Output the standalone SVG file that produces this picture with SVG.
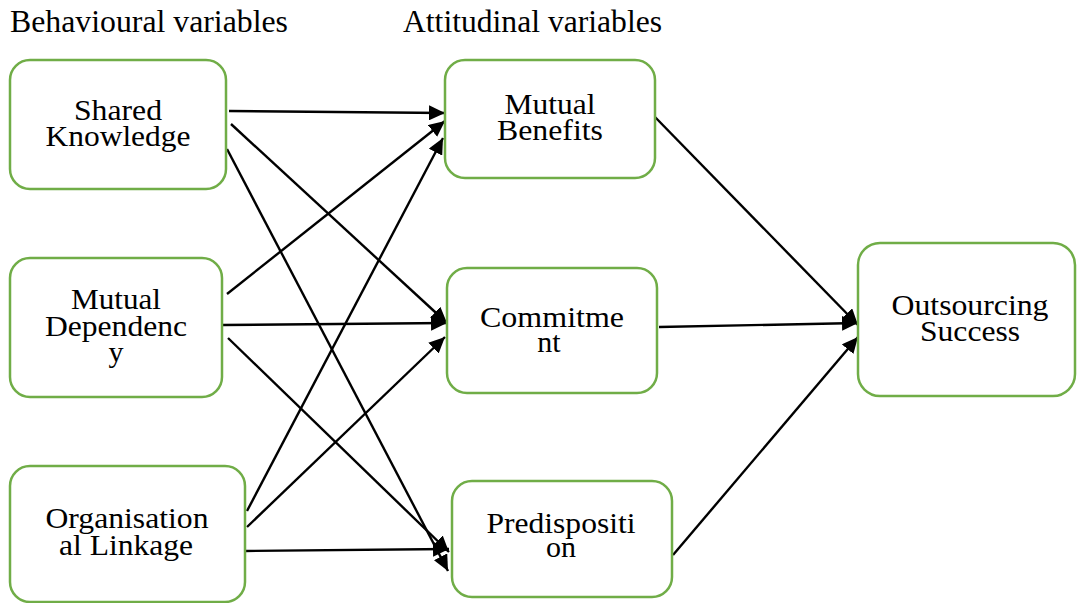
<svg xmlns="http://www.w3.org/2000/svg" width="1077" height="603" viewBox="0 0 1077 603">
  <style>
    .box { fill: #ffffff; stroke: #70AD47; stroke-width: 2.5; }
    .lbl { font-family: 'Liberation Serif', 'Times New Roman', Times, serif; font-size: 30px; fill: #000000; text-anchor: middle; }
    .hdr { font-family: 'Liberation Serif', 'Times New Roman', Times, serif; font-size: 31px; fill: #000000; }
    .link { stroke: #000000; stroke-width: 2.4; fill: none; marker-end: url(#arrow); }
  </style>
  <defs>
    <marker id="arrow" markerUnits="userSpaceOnUse" markerWidth="17" markerHeight="15" refX="16" refY="7.5" orient="auto">
      <path d="M0,0 L16,7.5 L0,15 z" fill="#000000"/>
    </marker>
  </defs>
  <rect width="1077" height="603" fill="#ffffff"/>

  <!-- column headings -->
  <text class="hdr" font-family="Liberation Serif" x="10" y="32" textLength="278" lengthAdjust="spacingAndGlyphs">Behavioural variables</text>
  <text class="hdr" font-family="Liberation Serif" x="403" y="32" textLength="259" lengthAdjust="spacingAndGlyphs">Attitudinal variables</text>

  <!-- connectors -->
  <g id="connectors">
    <line class="link" x1="229" y1="111" x2="445" y2="113"/>
    <line class="link" x1="231" y1="124" x2="447" y2="323"/>
    <line class="link" x1="227" y1="149" x2="448" y2="571"/>
    <line class="link" x1="227" y1="294" x2="445" y2="121"/>
    <line class="link" x1="222" y1="325" x2="447" y2="323"/>
    <line class="link" x1="228" y1="338" x2="449" y2="552"/>
    <line class="link" x1="247" y1="511" x2="443" y2="138"/>
    <line class="link" x1="247" y1="527" x2="445" y2="337"/>
    <line class="link" x1="245" y1="551" x2="449" y2="549"/>
    <line class="link" x1="654" y1="116" x2="858" y2="325"/>
    <line class="link" x1="659" y1="327" x2="858" y2="323"/>
    <line class="link" x1="673" y1="555" x2="858" y2="337"/>
  </g>

  <!-- behavioural variables -->
  <g id="shared-knowledge" font-family="Liberation Serif">
    <rect class="box" x="10" y="60" width="216" height="129" rx="20"/>
    <text class="lbl" x="118" y="120" textLength="88" lengthAdjust="spacingAndGlyphs">Shared</text>
    <text class="lbl" x="118" y="146" textLength="145" lengthAdjust="spacingAndGlyphs">Knowledge</text>
  </g>
  <g id="mutual-dependency">
    <rect class="box" x="10" y="258" width="212" height="139" rx="20"/>
    <text class="lbl" x="116" y="309" textLength="90" lengthAdjust="spacingAndGlyphs">Mutual</text>
    <text class="lbl" x="116" y="336" textLength="142" lengthAdjust="spacingAndGlyphs">Dependenc</text>
    <text class="lbl" x="116" y="362">y</text>
  </g>
  <g id="organisational-linkage">
    <rect class="box" x="10" y="466" width="235" height="136" rx="20"/>
    <text class="lbl" x="127" y="528" textLength="163" lengthAdjust="spacingAndGlyphs">Organisation</text>
    <text class="lbl" x="126" y="555" textLength="134" lengthAdjust="spacingAndGlyphs">al Linkage</text>
  </g>

  <!-- attitudinal variables -->
  <g id="mutual-benefits">
    <rect class="box" x="445" y="60" width="210" height="118" rx="20"/>
    <text class="lbl" x="550" y="114" textLength="91" lengthAdjust="spacingAndGlyphs">Mutual</text>
    <text class="lbl" x="550" y="140" textLength="106" lengthAdjust="spacingAndGlyphs">Benefits</text>
  </g>
  <g id="commitment">
    <rect class="box" x="447" y="268" width="210" height="125" rx="20"/>
    <text class="lbl" x="552" y="327" textLength="144" lengthAdjust="spacingAndGlyphs">Commitme</text>
    <text class="lbl" x="549" y="352">nt</text>
  </g>
  <g id="predisposition">
    <rect class="box" x="452" y="481" width="220" height="116" rx="20"/>
    <text class="lbl" x="561" y="533" textLength="149" lengthAdjust="spacingAndGlyphs">Predispositi</text>
    <text class="lbl" x="561" y="557">on</text>
  </g>

  <!-- outcome -->
  <g id="outsourcing-success">
    <rect class="box" x="858" y="243" width="217" height="153" rx="22"/>
    <text class="lbl" x="970" y="315" textLength="157" lengthAdjust="spacingAndGlyphs">Outsourcing</text>
    <text class="lbl" x="970" y="341" textLength="100" lengthAdjust="spacingAndGlyphs">Success</text>
  </g>
</svg>
